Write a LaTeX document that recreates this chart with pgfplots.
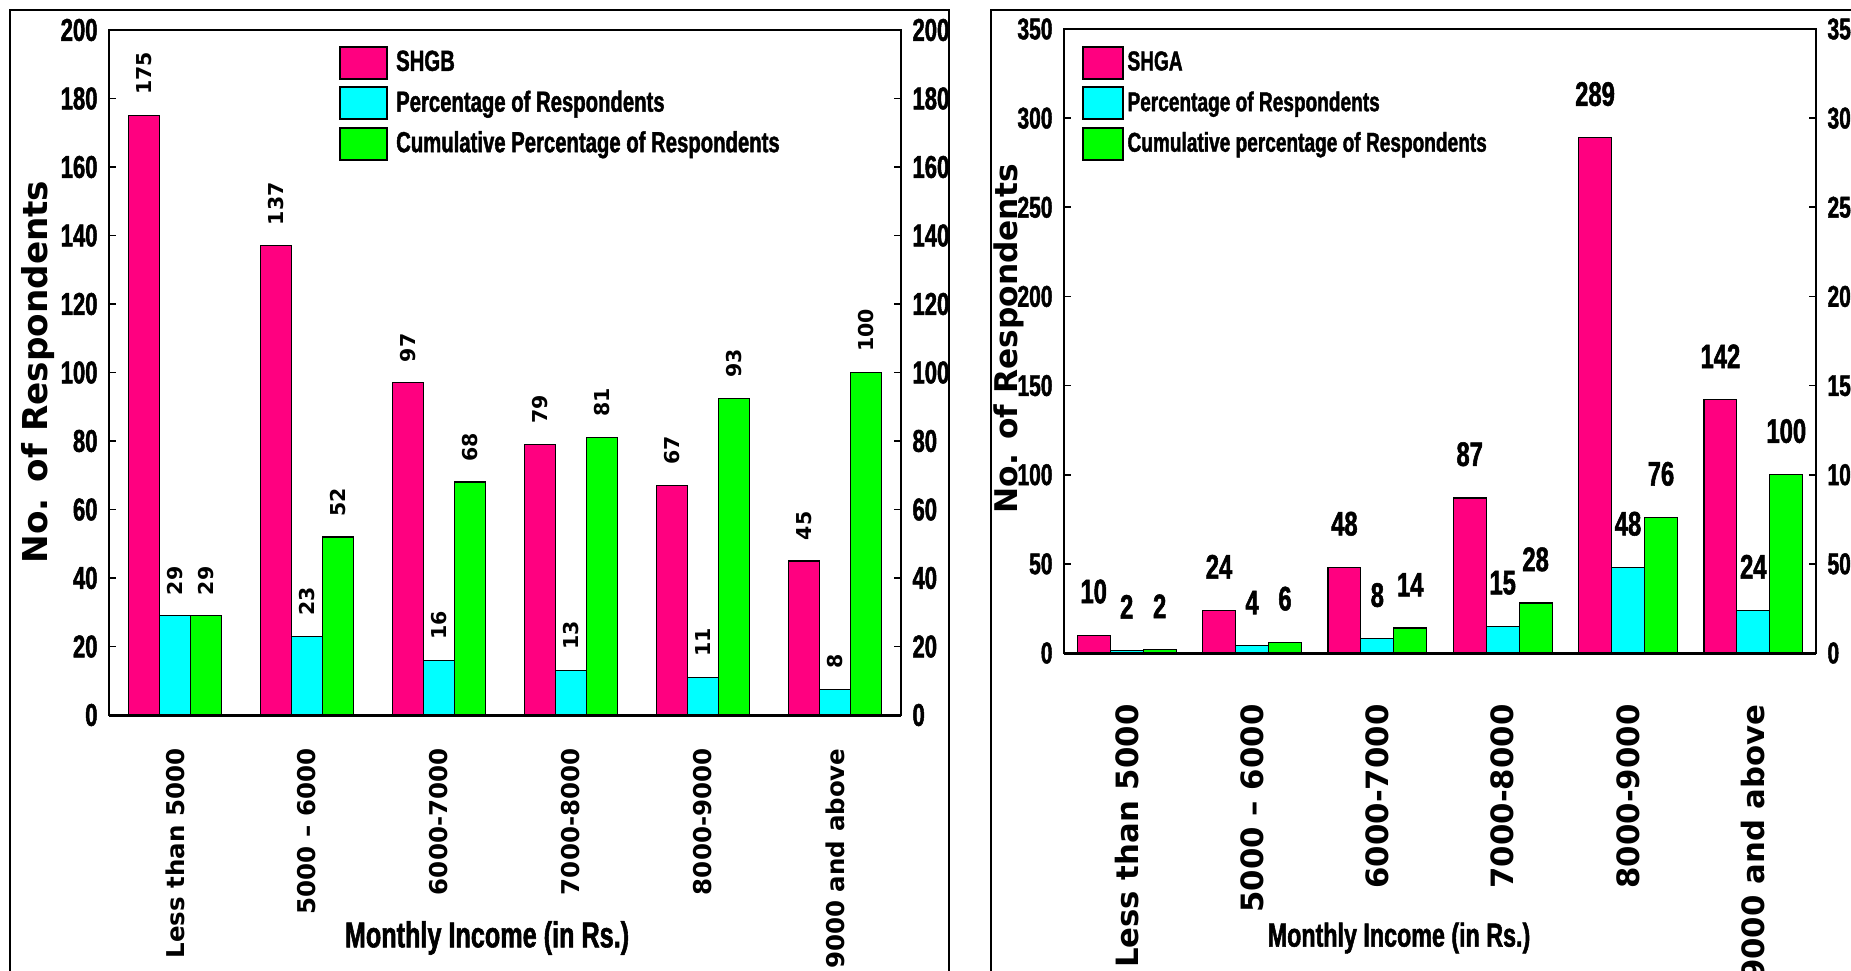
\documentclass[border=0pt]{standalone}
\usepackage{pgfplots}
\pgfplotsset{compat=1.18}
\usepackage{pgfplotstable}
\usepackage{fontspec}
\setmainfont{Liberation Sans}
\newfontfamily\narrow[FakeStretch=0.7, BoldFeatures={FakeBold=1.5}]{Liberation Sans}
\newfontfamily\wide{DejaVu Sans}
\definecolor{cpink}{RGB}{255,0,128}
\definecolor{ccyan}{RGB}{0,255,255}
\definecolor{cgreen}{RGB}{0,255,0}

\pgfplotstableread{
x pink pinkl cyan cyanl green greenl
0 175 175 29 29 29 29
1 137 137 23 23 52 52
2 97 97 16 16 68 68
3 79 79 13 13 81 81
4 67 67 11 11 92.5 93
5 45 45 7.5 8 100 100
}\leftdata

\pgfplotstableread{
x pink pinkl cyan cyanl green greenl
0 10 10 1.5 2 1.8 2
1 24 24 4 4 6 6
2 48 48 8 8 14 14
3 87 87 15 15 28 28
4 289 289 48 48 76 76
5 142 142 24 24 100 100
}\rightdata

\pgfplotsset{
  panel/.style={
    scale only axis, clip=false,
    xmin=-0.5, xmax=5.5, ymin=0,
    xtick={0,...,5},
    xtick style={draw=none},
    tick align=inside,
    major tick length=2.8pt,
    axis line style={line width=0.7pt},
    tick style={line width=0.7pt, black},
    /pgf/number format/assume math mode=true,
    yticklabel style={inner sep=0pt},
    yticklabel shift=4.4pt,
  },
  rightlabels/.style={
    scale only axis,
    xmin=-0.5, xmax=5.5, ymin=0,
    hide x axis,
    axis y line*=right,
    tick align=inside,
    major tick length=2.8pt,
    axis line style={line width=0.7pt},
    tick style={line width=0.7pt, black},
    /pgf/number format/assume math mode=true,
    yticklabel style={inner sep=0pt},
    yticklabel shift=4.4pt,
  },
}

\begin{document}
\begin{tikzpicture}
\useasboundingbox (0,0) rectangle (740.4pt,388pt);
\clip (0,0) rectangle (740.4pt,388pt);

% frames
\draw[line width=0.6pt] (4pt,-5pt) -- (4pt,384pt) -- (379.6pt,384pt) -- (379.6pt,-5pt);
\draw[line width=0.6pt] (396.4pt,-5pt) -- (396.4pt,384pt) -- (760pt,384pt);

% ---------------- Left panel ----------------
\begin{axis}[panel,
  at={(43.6pt,102pt)}, anchor=south west,
  width=316.8pt, height=274pt,
  ymax=200, ytick={0,20,...,200}, ytick pos=left,
  yticklabel style={font=\narrow\bfseries\fontsize{12.6}{13}\selectfont},
  xticklabels={Less than 5000, 5000 – 6000, 6000-7000, 7000-8000, 8000-9000, 9000 and above},
  xticklabel style={rotate=90, anchor=east, inner sep=0pt, font=\wide\bfseries\fontsize{9.8}{10}\selectfont},
  xticklabel shift=10.4pt,
  ybar, bar width=0.235,
  point meta=explicit symbolic,
  nodes near coords,
  every node near coord/.append style={rotate=90, anchor=west, inner xsep=8pt, inner ysep=0pt, text=black,
    font=\wide\bfseries\fontsize{8.2}{9}\selectfont},
  legend style={at={(0.290,0.978)}, anchor=north west, draw=none, fill=none, inner sep=0pt,
    row sep=2.6pt, column sep=3.2pt, nodes={inner sep=0pt, anchor=west},
    font=\narrow\bfseries\fontsize{11.6}{12}\selectfont},
  legend cell align=left,
  legend image code/.code={\draw[#1, line width=0.8pt] (0pt,-6.4pt) rectangle (18.8pt,6.4pt);},
]
\addplot[fill=cpink, draw=black, line width=0.5pt, bar shift=-0.235] table[x=x, y=pink, meta=pinkl] {\leftdata};
\addplot[fill=ccyan, draw=black, line width=0.5pt, bar shift=0] table[x=x, y=cyan, meta=cyanl] {\leftdata};
\addplot[fill=cgreen, draw=black, line width=0.5pt, bar shift=0.235] table[x=x, y=green, meta=greenl] {\leftdata};
\legend{SHGB, Percentage of Respondents, Cumulative Percentage of Respondents}
\draw[line width=1.2pt] (rel axis cs:0,0) -- (rel axis cs:1,0);
\end{axis}
\begin{axis}[rightlabels,
  at={(43.6pt,102pt)}, anchor=south west,
  width=316.8pt, height=274pt,
  ymax=200, ytick={0,20,...,200},
  yticklabel style={font=\narrow\bfseries\fontsize{12.6}{13}\selectfont},
]
\addplot[draw=none] coordinates {(0,0)};
\end{axis}
\node[rotate=90, font=\wide\bfseries\fontsize{13.7}{14}\selectfont] at (15.2pt,239.2pt) {No. of Respondents};
\node[font=\narrow\bfseries\fontsize{14.4}{15}\selectfont] at (194.8pt,12.8pt) {Monthly Income (in Rs.)};

% ---------------- Right panel ----------------
\begin{axis}[panel,
  at={(425.6pt,126.8pt)}, anchor=south west,
  width=300.8pt, height=249.6pt,
  ymax=350, ytick={0,50,...,350}, ytick pos=left,
  yticklabel style={font=\narrow\bfseries\fontsize{12}{12}\selectfont},
  xticklabels={Less than 5000, 5000 – 6000, 6000-7000, 7000-8000, 8000-9000, 9000 and above},
  xticklabel style={rotate=90, anchor=east, inner sep=0pt, font=\wide\bfseries\fontsize{12.3}{13}\selectfont},
  xticklabel shift=17.6pt,
  ybar, bar width=0.263,
  point meta=explicit symbolic,
  nodes near coords,
  every node near coord/.append style={anchor=south, inner sep=0pt, yshift=12.4pt, text=black,
    font=\narrow\bfseries\fontsize{13.6}{14}\selectfont},
  legend style={at={(0.0226,0.974)}, anchor=north west, draw=none, fill=none, inner sep=0pt,
    row sep=2.6pt, column sep=1.6pt, nodes={inner sep=0pt, anchor=west},
    font=\narrow\bfseries\fontsize{10.9}{11}\selectfont},
  legend cell align=left,
  legend image code/.code={\draw[#1, line width=0.8pt] (0pt,-6.4pt) rectangle (16pt,6.4pt);},
]
\addplot[fill=cpink, draw=black, line width=0.5pt, bar shift=-0.263] table[x=x, y=pink, meta=pinkl] {\rightdata};
\addplot[fill=ccyan, draw=black, line width=0.5pt, bar shift=0] table[x=x, y=cyan, meta=cyanl] {\rightdata};
\addplot[fill=cgreen, draw=black, line width=0.5pt, bar shift=0.263] table[x=x, y=green, meta=greenl] {\rightdata};
\legend{SHGA, Percentage of Respondents, Cumulative percentage of Respondents}
\draw[line width=1.2pt] (rel axis cs:0,0) -- (rel axis cs:1,0);
\end{axis}
\begin{axis}[rightlabels,
  at={(425.6pt,126.8pt)}, anchor=south west,
  width=300.8pt, height=249.6pt,
  ymax=350, ytick={0,50,...,350},
  yticklabel style={font=\narrow\bfseries\fontsize{12}{12}\selectfont},
]
\addplot[draw=none] coordinates {(0,0)};
\end{axis}
\node[rotate=90, font=\wide\bfseries\fontsize{12.5}{13}\selectfont] at (403.6pt,252.4pt) {No. of Respondents};
\node[font=\narrow\bfseries\fontsize{13.3}{14}\selectfont] at (559.6pt,12.8pt) {Monthly Income (in Rs.)};
\end{tikzpicture}
\end{document}
